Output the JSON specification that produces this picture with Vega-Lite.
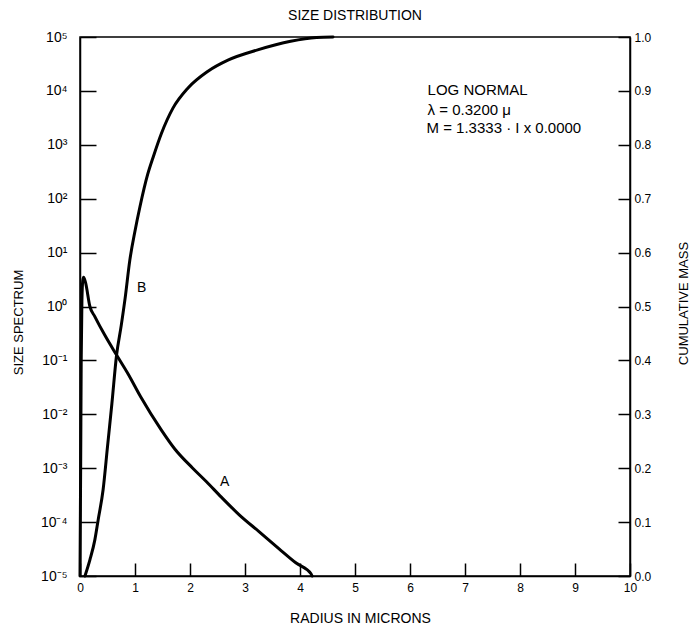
{
  "$schema": "https://vega.github.io/schema/vega-lite/v6.json",
  "autosize": "none",
  "width": 550,
  "height": 539,
  "padding": {"left": 80, "top": 37, "right": 60, "bottom": 51},
  "background": "white",
  "title": {"text": "SIZE DISTRIBUTION", "frame": "group", "anchor": "middle", "offset": 7, "fontSize": 14, "fontWeight": "normal", "font": "Liberation Sans", "color": "black"},
  "config": {
    "view": {"stroke": "black", "strokeWidth": 1.5},
    "axis": {"font": "Liberation Sans", "labelFont": "Liberation Sans", "titleFont": "Liberation Sans", "labelColor": "black", "titleColor": "black", "domainColor": "black", "tickColor": "black", "domainWidth": 1.5, "tickWidth": 1.5, "grid": false, "titleFontWeight": "normal", "titleFontSize": 14}
  },
  "datasets": {
    "A": [
      {"x": 0.0, "v": 0.00001},
      {"x": 0.012, "v": 0.001},
      {"x": 0.022, "v": 0.1},
      {"x": 0.035, "v": 1.3},
      {"x": 0.05, "v": 3.0},
      {"x": 0.065, "v": 3.5},
      {"x": 0.1, "v": 2.8},
      {"x": 0.18, "v": 1.0},
      {"x": 0.27, "v": 0.65},
      {"x": 0.45, "v": 0.295},
      {"x": 0.665, "v": 0.126},
      {"x": 0.875, "v": 0.056},
      {"x": 1.1, "v": 0.0214},
      {"x": 1.48, "v": 0.0051},
      {"x": 1.72, "v": 0.0023},
      {"x": 2.05, "v": 0.001},
      {"x": 2.3, "v": 0.00056},
      {"x": 2.57, "v": 0.00029},
      {"x": 2.9, "v": 0.000135},
      {"x": 3.26, "v": 0.000066},
      {"x": 3.62, "v": 0.000032},
      {"x": 3.93, "v": 0.0000174},
      {"x": 4.2, "v": 0.000011},
      {"x": 4.22, "v": 0.00001}
    ],
    "B": [
      {"x": 0.09, "m": 0.0},
      {"x": 0.18, "m": 0.03},
      {"x": 0.27, "m": 0.067},
      {"x": 0.33, "m": 0.104},
      {"x": 0.42, "m": 0.16},
      {"x": 0.5, "m": 0.24},
      {"x": 0.58, "m": 0.32},
      {"x": 0.665, "m": 0.41},
      {"x": 0.75, "m": 0.465},
      {"x": 0.82, "m": 0.515},
      {"x": 0.906, "m": 0.586},
      {"x": 1.0, "m": 0.64},
      {"x": 1.09, "m": 0.685},
      {"x": 1.23, "m": 0.745},
      {"x": 1.33, "m": 0.777},
      {"x": 1.48, "m": 0.821},
      {"x": 1.69, "m": 0.868},
      {"x": 1.96, "m": 0.905},
      {"x": 2.32, "m": 0.936},
      {"x": 2.69, "m": 0.957},
      {"x": 3.23, "m": 0.976},
      {"x": 3.83, "m": 0.992},
      {"x": 4.3, "m": 0.999},
      {"x": 4.6, "m": 1.0}
    ],
    "curveLabels": [
      {"x": 2.63, "m": 0.174, "text": "A"},
      {"x": 1.12, "m": 0.534, "text": "B"}
    ],
    "notes": [
      {"x": 6.32, "m": 0.902, "text": "LOG NORMAL"},
      {"x": 6.32, "m": 0.865, "text": "λ = 0.3200 μ"},
      {"x": 6.3, "m": 0.831, "text": "M = 1.3333 · I x 0.0000"}
    ]
  },
  "layer": [
    {
      "data": {"name": "A"},
      "mark": {"type": "line", "color": "black", "strokeWidth": 3, "interpolate": "monotone", "strokeCap": "round"},
      "encoding": {
        "x": {"field": "x", "type": "quantitative", "scale": {"domain": [0, 10], "nice": false},
          "axis": {"title": "RADIUS IN MICRONS", "values": [0,1,2,3,4,5,6,7,8,9,10], "format": "d", "tickSize": -13, "labelPadding": 19, "labelFontSize": 12, "labelFlush": false, "titleX": 280, "titleY": 42, "titleBaseline": "middle"}},
        "y": {"field": "v", "type": "quantitative", "scale": {"type": "log", "domain": [0.00001, 100000], "nice": false},
          "axis": {"orient": "left", "title": "SIZE SPECTRUM", "values": [0.00001, 0.0001, 0.001, 0.01, 0.1, 1, 10, 100, 1000, 10000, 100000],
            "labelExpr": "['10⁻⁵','10⁻⁴','10⁻³','10⁻²','10⁻¹','10⁰','10¹','10²','10³','10⁴','10⁵'][round(log(datum.value)/LN10)+5]",
            "tickSize": -16, "labelPadding": 29, "labelFontSize": 14, "titleX": -62, "titleY": 285, "titleBaseline": "middle", "titleAngle": 270, "titleFontSize": 13}}
      }
    },
    {
      "layer": [
        {
          "data": {"name": "B"},
          "mark": {"type": "line", "color": "black", "strokeWidth": 3, "interpolate": "monotone", "strokeCap": "round"},
          "encoding": {
            "x": {"field": "x", "type": "quantitative", "scale": {"domain": [0, 10], "nice": false}},
            "y": {"field": "m", "type": "quantitative", "scale": {"domain": [0, 1], "nice": false},
              "axis": {"orient": "right", "title": "CUMULATIVE MASS", "values": [0,0.1,0.2,0.3,0.4,0.5,0.6,0.7,0.8,0.9,1.0], "format": ".1f",
                "tickSize": -12, "labelPadding": 16, "labelFontSize": 12, "titleX": 53, "titleY": 266, "titleBaseline": "middle", "titleAngle": 270, "titleFontSize": 13}}
          }
        },
        {
          "data": {"name": "curveLabels"},
          "mark": {"type": "text", "font": "Liberation Sans", "fontSize": 14, "color": "black", "align": "center", "baseline": "middle"},
          "encoding": {
            "x": {"field": "x", "type": "quantitative"},
            "y": {"field": "m", "type": "quantitative"},
            "text": {"field": "text"}
          }
        },
        {
          "data": {"name": "notes"},
          "mark": {"type": "text", "font": "Liberation Sans", "fontSize": 15, "color": "black", "align": "left", "baseline": "middle"},
          "encoding": {
            "x": {"field": "x", "type": "quantitative"},
            "y": {"field": "m", "type": "quantitative"},
            "text": {"field": "text"}
          }
        }
      ]
    }
  ],
  "resolve": {"scale": {"y": "independent"}}
}
